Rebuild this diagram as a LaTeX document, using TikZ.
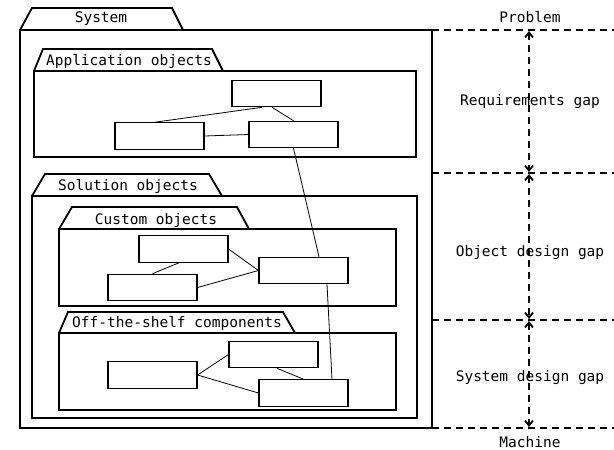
\documentclass[tikz,border=0pt]{standalone}
\usepackage{fontspec}
\setmainfont{DejaVu Sans Mono}
\usetikzlibrary{arrows.meta,calc}
\begin{document}
\begin{tikzpicture}[x=1pt,y=-1pt,
  every node/.style={font=\fontsize{14.5}{17}\selectfont},
  pkg/.style={draw,line width=1.8pt,line join=miter},
  obj/.style={draw,line width=1.1pt,minimum width=89pt,minimum height=26.5pt,inner sep=0pt},
  conn/.style={draw,line width=0.8pt},
  level/.style={draw,line width=1.8pt,dash pattern=on 7pt off 5pt},
  gap/.style={draw,line width=1.8pt,dash pattern=on 7pt off 5pt,
    {Straight Barb[length=5pt,width=8pt]}-{Straight Barb[length=5pt,width=8pt]}},
  lbl/.style={inner sep=0pt,anchor=center}]
\useasboundingbox (0,0) rectangle (614,450);
% System package
\draw[pkg] (20,30) -- (32,8) -- (172,8) -- (183,30);
\draw[pkg] (20,30) rectangle (432,428);
\node[lbl] (tsys) at (101,19) {System};
% Application objects
\draw[pkg] (34,71) -- (43,49) -- (212,49) -- (223,71);
\draw[pkg] (34,71) rectangle (416,157);
\node[lbl] (tapp) at (129,61) {Application objects};
% Solution objects
\draw[pkg] (32,196) -- (45,174) -- (209,174) -- (222,196);
\draw[pkg] (32,196) rectangle (417,418);
\node[lbl] (tsol) at (128,186) {Solution objects};
% Custom objects
\draw[pkg] (59,229) -- (72,207) -- (237,207) -- (249,229);
\draw[pkg] (59,229) rectangle (396,306);
\node[lbl] (tcus) at (156,220) {Custom objects};
% Off-the-shelf components
\draw[pkg] (59,333) -- (68,312) -- (283,312) -- (295,333);
\draw[pkg] (59,333) rectangle (396,410);
\node[lbl] (tots) at (177,323) {Off-the-shelf components};
% objects
\node[obj] (A1) at (276.5,93.5) {};
\node[obj] (A2) at (159.5,136) {};
\node[obj] (A3) at (293.5,134.5) {};
\node[obj] (C1) at (183.5,249) {};
\node[obj] (C2) at (152.5,287.5) {};
\node[obj] (C3) at (303.5,270.5) {};
\node[obj] (O1) at (152.5,375) {};
\node[obj] (O2) at (273.5,354.5) {};
\node[obj] (O3) at (303.5,393) {};
% connectors
\draw[conn] ($(A1.south)+(-14.5,0)$) -- ($(A2.north)+(-4.5,0)$);
\draw[conn] ($(A1.south)+(-4.5,0)$) -- (A3.north);
\draw[conn] (A2.east) -- (A3.west);
\draw[conn] (A3.south) -- ($(C3.north)+(15.5,0)$);
\draw[conn] ($(C1.south)+(-4.5,0)$) -- (C2.north);
\draw[conn] (C1.east) -- (C3.west);
\draw[conn] (C2.east) -- (C3.west);
\draw[conn] ($(C3.south)+(23.5,0)$) -- ($(O3.north)+(28.5,0)$);
\draw[conn] (O1.east) -- (O2.west);
\draw[conn] (O1.east) -- (O3.west);
\draw[conn] ($(O2.south)+(3.5,0)$) -- (O3.north);
% levels
\coordinate (L0a) at (432,30);  \coordinate (L0b) at (614,30);
\coordinate (L1a) at (432,173); \coordinate (L1b) at (614,173);
\coordinate (L2a) at (432,320); \coordinate (L2b) at (614,320);
\coordinate (L3a) at (432,428); \coordinate (L3b) at (614,428);
\draw[level] (L0a) -- (L0b);
\draw[level] (L1a) -- (L1b);
\draw[level] (L2a) -- (L2b);
\draw[level] (L3a) -- (L3b);
\coordinate (G0) at (529,31);
\coordinate (G1t) at (529,172);
\coordinate (G1b) at (529,174);
\coordinate (G2t) at (529,319);
\coordinate (G2b) at (529,321);
\coordinate (G3) at (529,427);
\draw[gap] (G0) -- (G1t);
\draw[gap] (G1b) -- (G2t);
\draw[gap] (G2b) -- (G3);
\node[lbl] (prob) at (530,17) {Problem};
\node[lbl] (req) at (530,102) {Requirements gap};
\node[lbl] (odg) at (530,253) {Object design gap};
\node[lbl] (sdg) at (530,378) {System design gap};
\node[lbl] (mach) at (530,442) {Machine};
\end{tikzpicture}
\end{document}
